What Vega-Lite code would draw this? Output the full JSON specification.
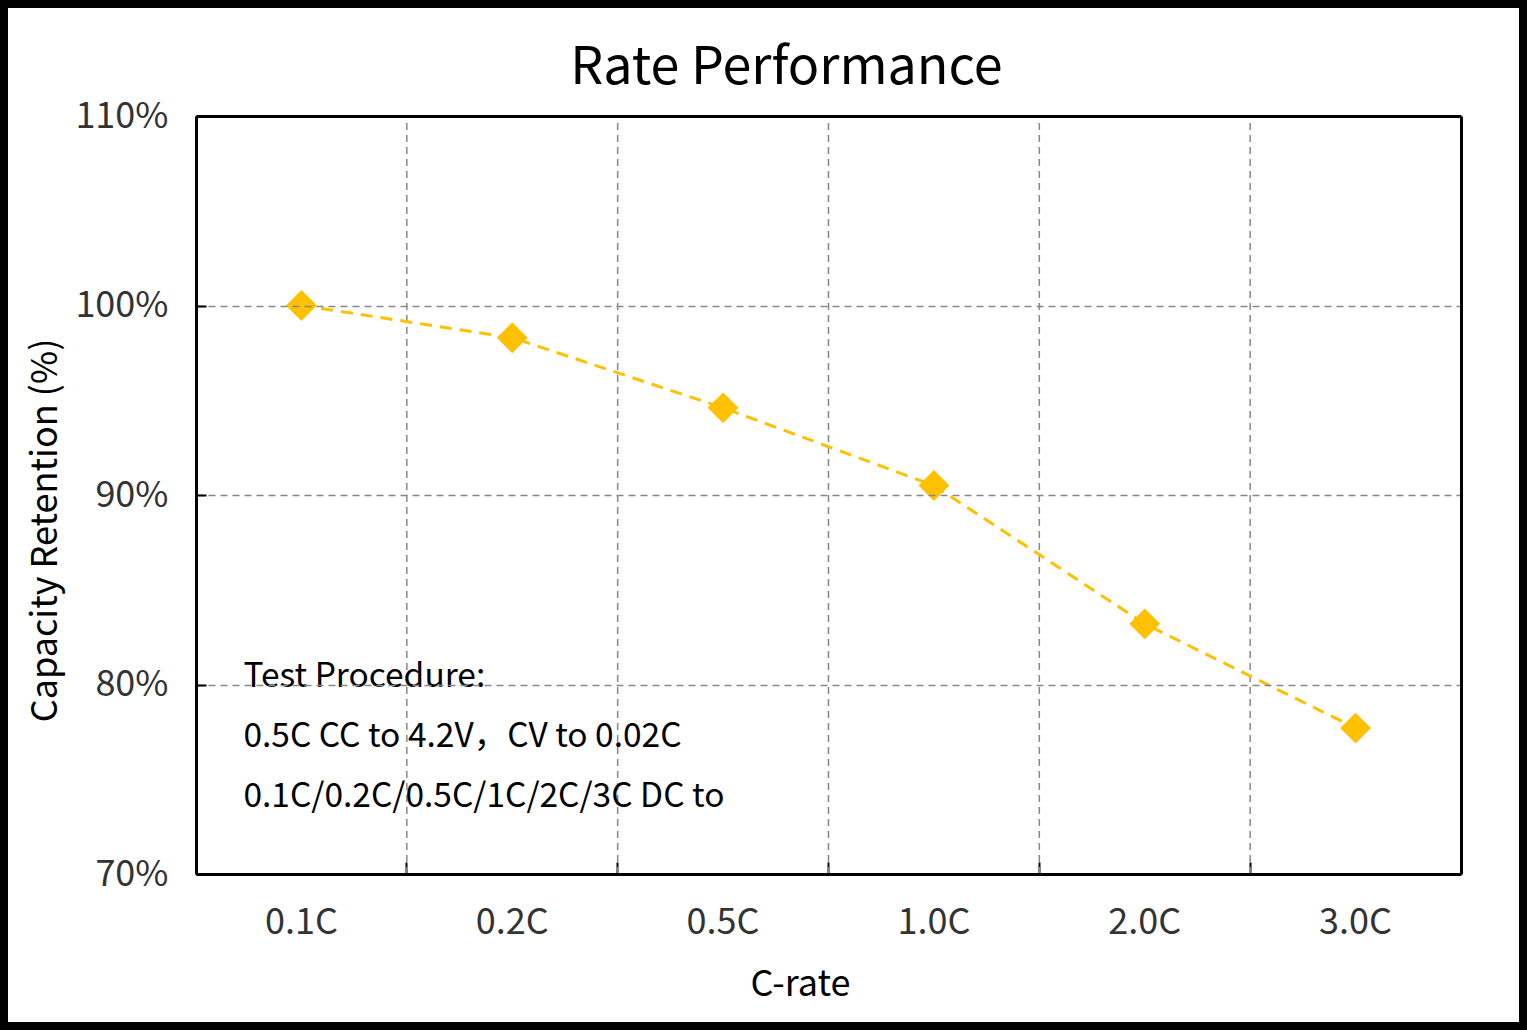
{
  "$schema": "https://vega.github.io/schema/vega-lite/v6.json",
  "width": 1527,
  "height": 1030,
  "autosize": "none",
  "padding": 0,
  "background": "white",
  "view": {"fill": "white", "stroke": "black", "strokeWidth": 16},
  "config": {"font": "Noto Sans CJK SC"},
  "data": {
    "values": [
      {"rate": "0.1C", "retention": 100.0},
      {"rate": "0.2C", "retention": 98.3},
      {"rate": "0.5C", "retention": 94.6},
      {"rate": "1.0C", "retention": 90.5},
      {"rate": "2.0C", "retention": 83.2},
      {"rate": "3.0C", "retention": 77.7}
    ]
  },
  "resolve": {"axis": {"x": "independent", "y": "independent"}},
  "layer": [
    {
      "mark": {"type": "rule", "color": "#888888", "strokeWidth": 1.5, "strokeDash": [7, 5]},
      "encoding": {
        "x": {
          "field": "rate", "type": "nominal", "bandPosition": 0,
          "axis": {
            "orient": "bottom", "offset": -156, "bandPosition": 0,
            "labels": false, "domain": false, "grid": false, "title": null,
            "ticks": true, "tickSize": -12, "tickWidth": 2, "tickColor": "black"
          }
        },
        "y": {"datum": 70, "type": "quantitative", "axis": null},
        "y2": {"datum": 110}
      }
    },
    {
      "mark": {"type": "line", "color": "#FFC000", "strokeWidth": 3, "strokeDash": [12, 8]},
      "encoding": {
        "x": {
          "field": "rate", "type": "nominal",
          "scale": {"type": "band", "domain": ["0.1C", "0.2C", "0.5C", "1.0C", "2.0C", "3.0C"], "range": [196, 1461], "paddingInner": 0, "paddingOuter": 0},
          "axis": {
            "orient": "bottom", "offset": -156, "zindex": 1,
            "domain": true, "domainColor": "black", "domainWidth": 3,
            "ticks": false, "grid": false,
            "labelAngle": 0, "labelFontSize": 36, "labelColor": "#333333", "labelPadding": 31,
            "title": "C-rate", "titleFontSize": 36, "titleFontWeight": "normal", "titleColor": "black",
            "titleX": 800, "titleY": 121, "titleAlign": "center", "titleBaseline": "alphabetic"
          }
        },
        "y": {
          "field": "retention", "type": "quantitative",
          "scale": {"domain": [70, 110], "range": [874, 116], "nice": false, "zero": false},
          "axis": {
            "orient": "left", "offset": -196, "zindex": 1,
            "values": [70, 80, 90, 100, 110], "labelExpr": "datum.value + '%'",
            "domain": true, "domainColor": "black", "domainWidth": 3,
            "ticks": true, "tickSize": -10, "tickWidth": 2, "tickColor": "black",
            "grid": true, "gridColor": "#888888", "gridWidth": 1.5, "gridDash": [7, 5],
            "labelFontSize": 36, "labelColor": "#333333", "labelPadding": 38,
            "title": "Capacity Retention (%)", "titleFontSize": 36, "titleFontWeight": "normal", "titleColor": "black",
            "titleX": -151, "titleY": 530, "titleAngle": -90, "titleAlign": "center", "titleBaseline": "middle"
          }
        }
      }
    },
    {
      "mark": {"type": "point", "shape": "diamond", "filled": true, "size": 950, "color": "#FFC000", "opacity": 1},
      "encoding": {
        "x": {
          "field": "rate", "type": "nominal",
          "axis": {
            "orient": "top", "offset": -116, "zindex": 1,
            "domain": true, "domainColor": "black", "domainWidth": 3,
            "ticks": false, "labels": false, "grid": false,
            "title": "Rate Performance", "titleFontSize": 52, "titleFontWeight": "normal", "titleColor": "black",
            "titleX": 786, "titleY": -33, "titleAlign": "center", "titleBaseline": "alphabetic"
          }
        },
        "y": {
          "field": "retention", "type": "quantitative",
          "axis": {
            "orient": "right", "offset": -66, "zindex": 1,
            "domain": true, "domainColor": "black", "domainWidth": 3,
            "ticks": false, "labels": false, "title": null, "grid": false
          }
        }
      }
    },
    {
      "data": {
        "values": [
          {"rate": "0.1C", "note": "Test Procedure:\n0.5C CC to 4.2V，CV to 0.02C\n0.1C/0.2C/0.5C/1C/2C/3C DC to"}
        ]
      },
      "mark": {"type": "text", "align": "left", "baseline": "alphabetic", "dx": -58, "dy": 2, "fontSize": 33.5, "lineHeight": 60, "lineBreak": "\n", "color": "black"},
      "encoding": {
        "x": {"field": "rate", "type": "nominal", "axis": null},
        "y": {"datum": 80, "type": "quantitative", "axis": null},
        "text": {"field": "note"}
      }
    }
  ]
}
